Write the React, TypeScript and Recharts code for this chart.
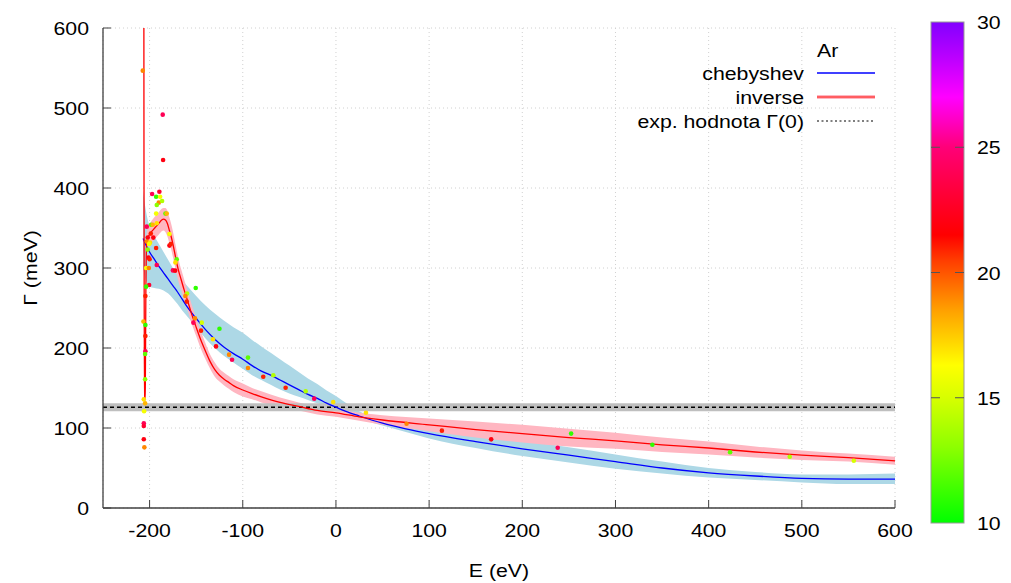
import React from 'react';
import {
  ComposedChart, Line, Area, Scatter, XAxis, YAxis, CartesianGrid, ReferenceArea, ReferenceLine,
} from 'recharts';

// ---------- data ----------
const X_TICKS = [-200, -100, 0, 100, 200, 300, 400, 500, 600];
const Y_TICKS = [0, 100, 200, 300, 400, 500, 600];
const CB_TICKS = [10, 15, 20, 25, 30];

// chebyshev fit and its uncertainty band
const CHEB_E = [-207, -204, -200, -195, -190, -185, -180, -175, -170, -165, -160, -150, -140, -130, -120, -110, -100, -90, -80, -70, -60, -50, -40, -30, -20, -10, 0, 10, 25, 50, 75, 100, 150, 200, 250, 300, 350, 400, 450, 500, 550, 600];
const CHEB_G = [337, 329, 320, 311, 302, 294, 286, 278, 270, 261, 252, 237, 223, 211, 201, 193, 186, 178, 171, 166, 160, 154, 148, 142, 137, 131, 126, 121, 115, 106, 99, 93, 83, 74, 66, 58, 50, 44, 40, 37, 36, 36];
const CHEB_LO = [300, 285, 277, 275, 274, 272, 268, 262, 255, 247, 240, 226, 212, 200, 190, 182, 174, 166, 160, 154, 148, 143, 139, 135, 131, 128, 124, 119, 112, 103, 95, 87, 75, 65, 57, 49, 43, 38, 35, 32, 30, 30];
const CHEB_HI = [397, 372, 352, 340, 330, 320, 310, 300, 292, 285, 278, 265, 253, 243, 234, 226, 219, 210, 202, 194, 186, 178, 170, 162, 155, 147, 140, 132, 121, 111, 104, 99, 91, 84, 76, 67, 58, 50, 45, 42, 42, 43];

// inverse fit and its uncertainty
const INV_E = [-206.2, -206.0, -205.8, -205.5, -205.2, -204.9, -204.6, -204.3, -204.0, -203.6, -203, -201, -199, -196, -193, -190, -187, -185, -183, -181, -179, -177, -175, -172, -169, -166, -163, -160, -155, -150, -145, -140, -135, -130, -125, -120, -115, -110, -100, -90, -80, -60, -40, -20, 0, 25, 50, 100, 150, 200, 250, 300, 350, 400, 450, 500, 550, 600];
const INV_G = [700, 420, 260, 170, 138, 135, 150, 200, 270, 315, 334, 340, 344, 348, 352, 356, 360, 361, 360, 356, 348, 340, 330, 313, 297, 285, 273, 262, 243, 226, 210, 196, 183, 173, 166, 161, 157, 153, 147.5, 143, 139, 132, 127, 122, 119, 114, 110, 104, 98, 93, 88, 84, 79, 75, 70, 66, 63, 59];
const INV_ERR = [5, 5, 5, 5, 5, 5, 5, 5, 5, 8, 10, 12, 13, 14, 14, 14, 14, 14, 15, 16, 16, 16, 16, 15, 14, 13, 13, 12, 12, 11, 11, 10, 9, 9, 8, 8, 8, 8, 8, 7, 7, 6, 5, 5, 5, 5, 6, 8, 10, 11, 11, 10, 9, 8, 7, 6, 5, 5];

// experimental value Gamma(0)
const EXP_G0 = 126;
const EXP_G0_ERR = 5;

// measured points: energy, width, colour value
const PTS_E = [-207.3, -185.9, -185.5, -197.3, -189.5, -193, -188.7, -190.2, -186.6, -192.3, -193, -183, -181.6, -203, -198.4, -196.6, -192.3, -202, -198.7, -196, -203, -199.5, -200.5, -202, -193, -178.7, -178.7, -177.3, -201.2, -200, -192.3, -203.7, -200.8, -170.9, -172.3, -175, -172.6, -200.5, -203.7, -204.5, -150.5, -159.8, -161.6, -160.1, -151.2, -153, -144, -144.8, -125, -132, -128.7, -114.7, -111.5, -94.4, -94.4, -78, -67.2, -54, -32.5, -23.3, -2.9, 32.2, 75.8, 113.7, 166.6, 238, 252.4, 339.6, 423, 487, 555.8, -206.6, -204.5, -204.5, -204.5, -204.8, -204.8, -206.2, -204.8, -205.9, -206.2, -206.2, -206.2, -205.6];
const PTS_G = [546.7, 491.7, 435, 392.5, 395.4, 389, 389, 381.7, 383.7, 378.8, 368, 368, 368, 351.7, 354, 354, 356, 338, 343, 338, 333, 331.7, 330, 323, 325, 342.5, 328, 330, 313, 311, 303.8, 300, 300, 311, 307, 297, 296.7, 278.8, 276.7, 265, 275, 268, 265, 258, 237, 231.7, 231.7, 221.7, 224, 211, 202, 191.7, 185.4, 188, 175, 164, 166, 150.4, 145.8, 136.7, 132.5, 119, 105.4, 96.7, 85.8, 75.4, 93, 79, 69.6, 64, 59, 233, 228.8, 215, 196, 192.5, 161, 135.8, 130.8, 121, 105.8, 102.5, 86, 75.8];
const PTS_C = [19, 24, 22, 24, 23, 11, 16, 19, 14, 13, 16, 12, 18, 24, 12, 18, 17, 22, 21, 22, 19, 17, 16, 13, 21, 16, 22, 21, 22, 21, 24, 16, 19, 12, 17, 24, 22, 23, 11, 21, 11, 14, 19, 21, 19, 24, 15, 21, 11, 17, 22, 19, 24, 12, 19, 21, 14, 21, 14, 24, 17, 17, 19, 21, 22, 24, 11, 11, 12, 14, 15, 18, 11, 21, 24, 12, 13, 17, 18, 16, 24, 23, 22, 19];

// ---------- tables ----------
const chebData = CHEB_E.map((e, i) => ({ E: e, g: CHEB_G[i], band: [CHEB_LO[i], CHEB_HI[i]] }));
const invData = INV_E.map((e, i) => ({ E: e, g: INV_G[i], band: [INV_G[i] - INV_ERR[i], INV_G[i] + INV_ERR[i]] }));
const ptsData = PTS_E.map((e, i) => ({ E: e, g: PTS_G[i], c: PTS_C[i] }));

// ---------- style ----------
const W = 1011;
const H = 583;
const FONT = '"Liberation Sans", Arial, sans-serif';
const FS = 19;
const SX = 1.12;
const FRAME = '#404040';

const PALETTE: [number, number[]][] = [
  [10, [0, 255, 0]], [13, [140, 255, 0]], [15, [215, 255, 0]], [16.3, [255, 255, 0]],
  [17.2, [255, 215, 0]], [18.5, [255, 160, 0]], [19.5, [255, 110, 0]], [20.5, [255, 60, 0]],
  [21.5, [255, 0, 0]], [23, [255, 0, 50]], [25, [255, 0, 120]], [26, [255, 0, 190]],
  [27, [255, 0, 255]], [28.5, [190, 0, 255]], [30, [130, 0, 255]],
];
const colorOf = (v: number) => {
  for (let i = 0; i < PALETTE.length - 1; i++) {
    const [a, ca] = PALETTE[i];
    const [b, cb] = PALETTE[i + 1];
    if (v <= b) {
      const t = Math.max(0, (v - a) / (b - a));
      const c = ca.map((x, k) => Math.round(x + (cb[k] - x) * t));
      return `rgb(${c[0]},${c[1]},${c[2]})`;
    }
  }
  const c = PALETTE[PALETTE.length - 1][1];
  return `rgb(${c[0]},${c[1]},${c[2]})`;
};

const T = ({ x, y, anchor = 'middle', children, rotate = 0 }: any) => (
  <text
    transform={`translate(${x},${y}) rotate(${rotate}) scale(${SX},1)`}
    textAnchor={anchor}
    fontFamily={FONT}
    fontSize={FS}
    fill="#000"
  >
    {children}
  </text>
);

const BottomTick = (p: any) => (
  <g>
    <line x1={p.x} x2={p.x} y1={p.y} y2={p.y - 8} stroke={FRAME} strokeWidth={1} />
    <T x={p.x} y={p.y + 29}>{p.payload.value}</T>
  </g>
);
const TopTick = (p: any) => (
  <g>
    <line x1={p.x} x2={p.x} y1={p.y} y2={p.y + 8} stroke={FRAME} strokeWidth={1} />
  </g>
);
const LeftTick = (p: any) => (
  <g>
    <line x1={p.x} x2={p.x + 8} y1={p.y} y2={p.y} stroke={FRAME} strokeWidth={1} />
    <T x={p.x - 14} y={p.y + 7} anchor="end">{p.payload.value}</T>
  </g>
);
const RightTick = (p: any) => (
  <g>
    <line x1={p.x} x2={p.x - 8} y1={p.y} y2={p.y} stroke={FRAME} strokeWidth={1} />
  </g>
);

const XLabel = (p: any) => {
  const vb = p.viewBox;
  return <T x={vb.x + vb.width / 2} y={vb.y + 69}>E (eV)</T>;
};
const YLabel = (p: any) => {
  const vb = p.viewBox;
  return <T x={vb.x + 37} y={vb.y + vb.height / 2} rotate={-90}>Γ (meV)</T>;
};

const Dot = (p: any) => (
  <circle cx={p.cx} cy={p.cy} r={2.3} fill={colorOf(p.payload.c)} />
);

// colour bar geometry
const CB_X = 931;
const CB_W = 33;
const CB_TOP = 22;
const CB_BOT = 523;
const CB_MIN = 10;
const CB_MAX = 30;
const cbY = (v: number) => CB_BOT - ((v - CB_MIN) / (CB_MAX - CB_MIN)) * (CB_BOT - CB_TOP);

const Overlay = () => (
  <svg
    width={W}
    height={H}
    style={{ position: 'absolute', left: 0, top: 0, pointerEvents: 'none' }}
  >
    <defs>
      <linearGradient id="cbgrad" x1="0" y1="1" x2="0" y2="0">
        {PALETTE.map(([v]) => (
          <stop key={v} offset={(v - CB_MIN) / (CB_MAX - CB_MIN)} stopColor={colorOf(v)} />
        ))}
      </linearGradient>
    </defs>
    <rect x={CB_X} y={CB_TOP} width={CB_W} height={CB_BOT - CB_TOP} fill="url(#cbgrad)" stroke="#999" strokeWidth={1} />
    {CB_TICKS.map((v) => (
      <g key={v}>
        {v > CB_MIN && v < CB_MAX && (
          <>
            <line x1={CB_X} x2={CB_X + 9} y1={cbY(v)} y2={cbY(v)} stroke="#555" strokeWidth={1} />
            <line x1={CB_X + CB_W - 9} x2={CB_X + CB_W} y1={cbY(v)} y2={cbY(v)} stroke="#555" strokeWidth={1} />
          </>
        )}
        <T x={977} y={cbY(v) + 7} anchor="start">{v}</T>
      </g>
    ))}
    {/* legend */}
    <T x={817} y={57} anchor="start">Ar</T>
    <T x={804} y={80} anchor="end">chebyshev</T>
    <line x1={817} x2={875} y1={73} y2={73} stroke="#0000ff" strokeWidth={1.3} />
    <T x={804} y={104} anchor="end">inverse</T>
    <line x1={817} x2={875} y1={97} y2={97} stroke="#ffb6c1" strokeWidth={4} />
    <line x1={817} x2={875} y1={97} y2={97} stroke="#ff4040" strokeWidth={1.5} />
    <T x={804} y={128} anchor="end">exp. hodnota Γ(0)</T>
    <line x1={817} x2={875} y1={121} y2={121} stroke="#000" strokeWidth={1} strokeDasharray="2 2.5" />
  </svg>
);

export default function App() {
  return (
    <div style={{ position: 'absolute', left: 0, top: 0, width: W, height: H, background: '#fff' }}>
      <ComposedChart width={W} height={H} margin={{ top: 28, right: 116, bottom: 0, left: 0 }}>
        <CartesianGrid stroke="#d0d0d0" strokeDasharray="1 3" />
        <XAxis
          dataKey="E" type="number" domain={[-250, 600]} ticks={X_TICKS} allowDataOverflow interval={0}
          height={75} tickSize={0} tickMargin={0} tickLine={false}
          axisLine={{ stroke: FRAME, strokeWidth: 1.3 }} tick={BottomTick} label={<XLabel />}
        />
        <XAxis
          xAxisId="top" orientation="top" dataKey="E" type="number" domain={[-250, 600]} ticks={X_TICKS}
          allowDataOverflow interval={0} height={0} tickSize={0} tickMargin={0} tickLine={false}
          axisLine={{ stroke: FRAME, strokeWidth: 1.3 }} tick={TopTick}
        />
        <YAxis
          type="number" domain={[0, 600]} ticks={Y_TICKS} allowDataOverflow interval={0}
          width={103} tickSize={0} tickMargin={0} tickLine={false}
          axisLine={{ stroke: FRAME, strokeWidth: 1.3 }} tick={LeftTick} label={<YLabel />}
        />
        <YAxis
          yAxisId="right" orientation="right" type="number" domain={[0, 600]} ticks={Y_TICKS}
          allowDataOverflow interval={0} width={0} tickSize={0} tickMargin={0} tickLine={false}
          axisLine={{ stroke: FRAME, strokeWidth: 1.3 }} tick={RightTick}
        />
        <Area data={chebData} dataKey="band" type="monotone" stroke="none" fill="#add8e6" fillOpacity={1} isAnimationActive={false} />
        <Area data={invData} dataKey="band" type="monotone" stroke="none" fill="#ffb6c1" fillOpacity={1} isAnimationActive={false} />
        <ReferenceArea y1={EXP_G0 - EXP_G0_ERR} y2={EXP_G0 + EXP_G0_ERR} fill="#bfbfbf" fillOpacity={1} stroke="none" ifOverflow="hidden" />
        <ReferenceLine y={EXP_G0} stroke="#000" strokeWidth={1.5} strokeDasharray="4 3" />
        <Line data={chebData} dataKey="g" type="monotone" stroke="#0000ff" strokeWidth={1.3} dot={false} isAnimationActive={false} />
        <Line data={invData} dataKey="g" type="monotone" stroke="#ff0000" strokeWidth={1.3} dot={false} isAnimationActive={false} />
        <Scatter data={ptsData} dataKey="g" shape={Dot} isAnimationActive={false} />
      </ComposedChart>
      <Overlay />
    </div>
  );
}
